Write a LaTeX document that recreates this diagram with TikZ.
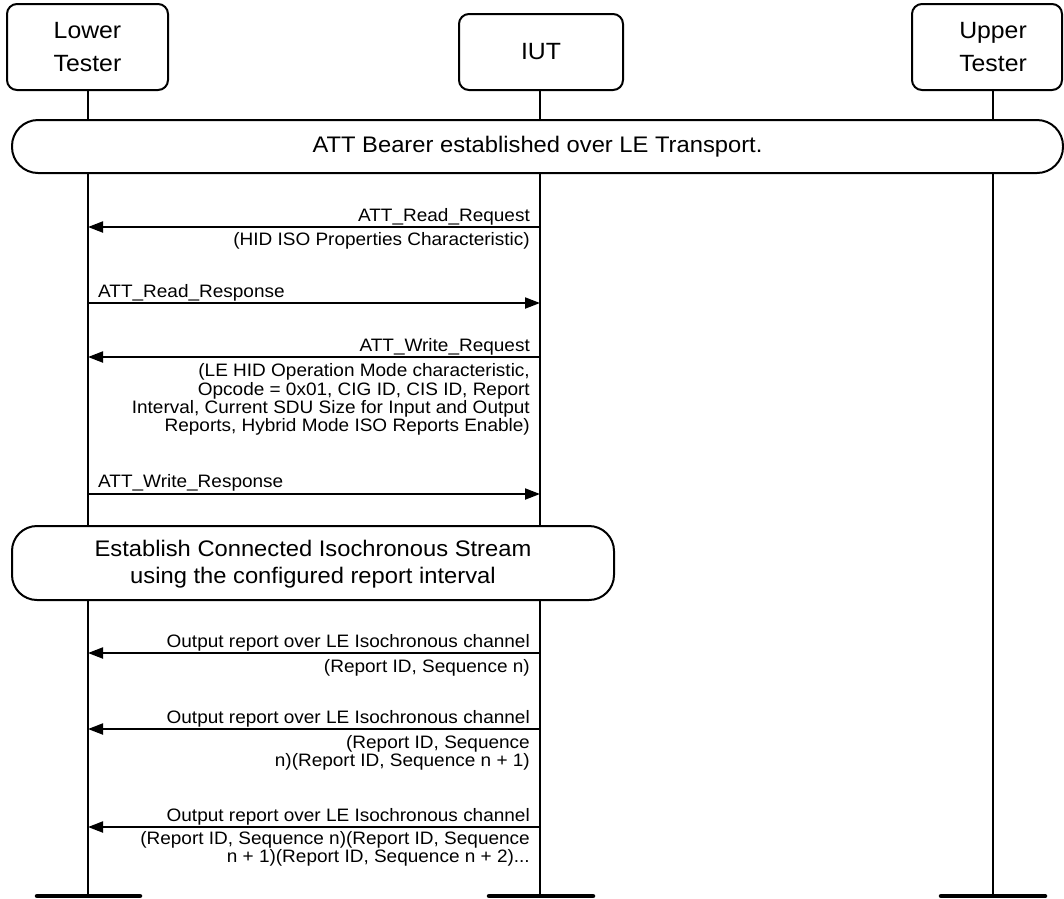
\documentclass[tikz,border=0pt]{standalone}
\usepackage{fontspec}
\setmainfont{Liberation Sans}[FakeStretch=1.055]
\usetikzlibrary{arrows.meta}
\begin{document}
\begin{tikzpicture}[x=1pt,y=-1pt,
  actor/.style={draw,line width=2pt,rounded corners=10pt,inner sep=0pt,
    font=\fontsize{23.5}{32.5}\selectfont,align=center},
  life/.style={line width=2pt},
  bar/.style={line width=4.5pt,line cap=round},
  msg/.style={line width=2pt,-{Triangle[length=15pt,width=11pt]}},
  lbl/.style={inner sep=0pt,font=\fontsize{18}{18.3}\selectfont,align=right},
  lbll/.style={inner sep=0pt,font=\fontsize{18}{18.3}\selectfont,align=left},
  big/.style={inner sep=0pt,font=\fontsize{22.5}{27}\selectfont,align=center}]
\useasboundingbox (0,0) rectangle (1064,898);
% actor boxes
\node[actor,minimum width=161pt,minimum height=86pt] (lt) at (87.5,47) {Lower\\Tester};
\node[actor,minimum width=164pt,minimum height=76pt] (iut) at (541,52) {IUT};
\draw[line width=2pt,rounded corners=10pt] (912,4) rectangle (1062,90);
\node[inner sep=0pt,font=\fontsize{23.5}{32.5}\selectfont,align=center] (ut) at (993,47) {Upper\\Tester};
% bottom coordinates
\coordinate (ltb) at (88,896);
\coordinate (iutb) at (540,896);
\coordinate (utb) at (993,896);
\coordinate (utt) at (993,90);
% lifelines
\draw[life] (lt.south -| ltb) -- (ltb);
\draw[life] (iut.south -| iutb) -- (iutb);
\draw[life] (utt) -- (utb);
% bottom bars
\draw[bar] (37,896) -- (140,896);
\draw[bar] (489,896) -- (593,896);
\draw[bar] (941,896) -- (1045,896);
% phase boxes
\draw[line width=2pt,fill=white,rounded corners=26pt] (12,120) rectangle (1063,173);
\node[big] (bearer) at (537.5,147) {ATT Bearer established over LE Transport.};
\draw[line width=2pt,fill=white,rounded corners=25pt] (12,526) rectangle (614,600);
\node[big] (cis) at (313,564) {Establish Connected Isochronous Stream\\using the configured report interval};
% message anchor coordinates
\coordinate (a1i) at (540,227); \coordinate (a1l) at (88,227);
\coordinate (a2i) at (540,303); \coordinate (a2l) at (88,303);
\coordinate (a3i) at (540,357); \coordinate (a3l) at (88,357);
\coordinate (a4i) at (540,494); \coordinate (a4l) at (88,494);
\coordinate (a5i) at (540,653); \coordinate (a5l) at (88,653);
\coordinate (a6i) at (540,729); \coordinate (a6l) at (88,729);
\coordinate (a7i) at (540,827); \coordinate (a7l) at (88,827);
% messages
\draw[msg] (a1i) -- (a1l);
\node[lbl,anchor=base east] (m1) at (530,221) {ATT\_Read\_Request};
\node[lbl,anchor=base east] (m1b) at (530,245) {(HID ISO Properties Characteristic)};
\draw[msg] (a2l) -- (a2i);
\node[lbll,anchor=base west] (m2) at (98,297) {ATT\_Read\_Response};
\draw[msg] (a3i) -- (a3l);
\node[lbl,anchor=base east] (m3) at (530,351) {ATT\_Write\_Request};
\node[lbl,anchor=north east] (m3b) at (530,363.5) {(LE HID Operation Mode characteristic,\\Opcode = 0x01, CIG ID, CIS ID, Report\\Interval, Current SDU Size for Input and Output\\Reports, Hybrid Mode ISO Reports Enable)};
\draw[msg] (a4l) -- (a4i);
\node[lbll,anchor=base west] (m4) at (98,487) {ATT\_Write\_Response};
\draw[msg] (a5i) -- (a5l);
\node[lbl,anchor=base east] (m5) at (530,647) {Output report over LE Isochronous channel};
\node[lbl,anchor=base east] (m5b) at (530,672) {(Report ID, Sequence n)};
\draw[msg] (a6i) -- (a6l);
\node[lbl,anchor=base east] (m6) at (530,723) {Output report over LE Isochronous channel};
\node[lbl,anchor=north east] (m6b) at (530,735) {(Report ID, Sequence\\n)(Report ID, Sequence n + 1)};
\draw[msg] (a7i) -- (a7l);
\node[lbl,anchor=base east] (m7) at (530,821) {Output report over LE Isochronous channel};
\node[lbl,anchor=north east] (m7b) at (530,831) {(Report ID, Sequence n)(Report ID, Sequence\\n + 1)(Report ID, Sequence n + 2)...};
\end{tikzpicture}
\end{document}
